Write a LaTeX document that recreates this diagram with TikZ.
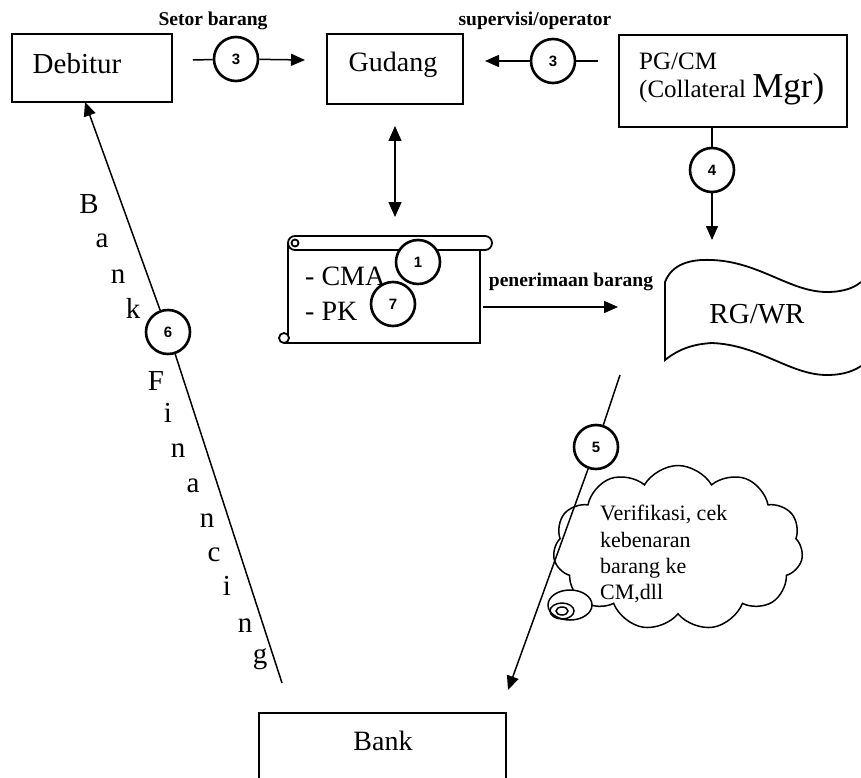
\documentclass[tikz,border=0pt]{standalone}
\usepackage{fontspec}
\setmainfont{Liberation Serif}
\newfontfamily\digitfont{Liberation Sans}
\usetikzlibrary{arrows.meta,shapes.symbols}
\begin{document}
\begin{tikzpicture}[x=1pt,y=-1pt,
  box/.style={draw,line width=1.8pt,rectangle,inner sep=0pt},
  num/.style={circle,draw,line width=2.6pt,minimum size=44pt,inner sep=0pt,fill=white,
    font=\digitfont\bfseries\fontsize{15}{15}\selectfont},
  conn/.style={line width=1.5pt},
  arr/.style={conn,-{Triangle[length=14pt,width=12pt]}},
  darr/.style={conn,{Triangle[length=15pt,width=13pt]}-{Triangle[length=15pt,width=13pt]}},
  txt/.style={anchor=base,inner sep=0pt,font=\fontsize{28}{30}\selectfont},
  lbl/.style={anchor=base,inner sep=0pt,font=\bfseries\fontsize{19.5}{20}\selectfont},
  bf/.style={anchor=base,inner sep=0pt,font=\fontsize{29}{30}\selectfont},
  ctxt/.style={anchor=base west,inner sep=0pt,font=\fontsize{22}{26}\selectfont},
  scrl/.style={line width=1.8pt},
]
\useasboundingbox (0,0) rectangle (861,778);
\clip (0,0) rectangle (861,778);

% boxes
\node[box,minimum width=160pt,minimum height=68pt] (deb) at (92,68) {};
\node[txt,font=\fontsize{29}{30}\selectfont] (debt) at (77,74) {Debitur};
\node[box,minimum width=136pt,minimum height=70pt] (gud) at (395,69) {};
\node[txt] (gudt) at (393,72) {Gudang};
\node[box,minimum width=228pt,minimum height=92pt] (pg) at (733,81) {};
\node[txt,anchor=base west,font=\fontsize{25}{26}\selectfont] (pgt) at (639,70) {PG/CM};
\node[txt,anchor=base west,font=\fontsize{25}{26}\selectfont] (colt) at (639,98) {(Collateral {\fontsize{35}{35}\selectfont Mgr)}};
\node[box,minimum width=247pt,minimum height=87pt] (bank) at (382.5,756.5) {};
\node[txt] (bankt) at (383,750) {Bank};

% scroll (CMA / PK)
\node[minimum width=192pt,minimum height=93pt,inner sep=0pt] (scroll) at (384,296.5) {};
\draw[scrl,rounded corners=7pt] (288,236) rectangle (492,250);
\draw[scrl] (295,243) circle (3.5pt);
\draw[scrl] (288,243) -- (288,336);
\draw[scrl] (480,250) -- (480,343) -- (284,343);
\draw[scrl] (284,338) circle (5pt);
\node[txt,anchor=base west] (cma) at (305,285) {- CMA};
\node[txt,anchor=base west] (pk) at (305,320) {- PK};

% RG/WR document
\draw[scrl] (665,282) .. controls (672,264) and (690,259) .. (712,260)
  .. controls (760,262) and (790,292) .. (827,292)
  .. controls (845,292) and (855,287) .. (861,282);
\draw[scrl] (665,282) -- (665,360)
  .. controls (680,348) and (695,344) .. (712,343)
  .. controls (760,345) and (790,375) .. (827,375)
  .. controls (845,375) and (855,370) .. (861,366);
\node[txt,font=\fontsize{29}{30}\selectfont] (rgt) at (757,323) {RG/WR};

% cloud
\node[cloud,draw,line width=1.5pt,cloud puffs=11,cloud puff arc=120,
  minimum width=250pt,minimum height=165pt,inner sep=0pt] (cloud) at (678,548) {};
\draw[line width=1.5pt,fill=white] (570,605) ellipse [x radius=22pt,y radius=15pt];
\draw[line width=1.5pt] (562,611) ellipse [x radius=12pt,y radius=8pt];
\draw[line width=1.5pt] (562,611) ellipse [x radius=6pt,y radius=4pt];
\node[ctxt] (v1) at (600,520) {Verifikasi, cek};
\node[ctxt] (v2) at (600,547) {kebenaran};
\node[ctxt] (v3) at (600,573) {barang ke};
\node[ctxt] (v4) at (600,599) {CM,dll};

% numbered circles
\node[num] (c3a) at (236,59) {3};
\node[num] (c3b) at (553,61) {3};
\node[num] (c4) at (712,170) {4};
\node[num] (c1) at (418,262) {1};
\node[num] (c7) at (393,304) {7};
\node[num] (c6) at (168,332) {6};
\node[num] (c5) at (596,447) {5};

% coordinates
\coordinate (s3l) at (193,60);
\coordinate (s3r) at (305,60);
\coordinate (o3r) at (598,61);
\coordinate (o3l) at (485,61);
\coordinate (g1) at (395,126);
\coordinate (g2) at (395,217);
\coordinate (p1) at (483,307);
\coordinate (p2) at (618,307);
\coordinate (r4) at (712,240);
\coordinate (rf) at (620,375);
\coordinate (bk) at (508,690);
\coordinate (bfb) at (282,683);
\coordinate (dt) at (85,102);

% connectors
\draw[conn] (s3l) -- (c3a);
\draw[arr] (c3a) -- (s3r);
\draw[conn] (o3r) -- (c3b);
\draw[arr] (c3b) -- (o3l);
\draw[conn] (c4 |- pg.south) -- (c4);
\draw[arr] (c4) -- (r4);
\draw[darr] (g1) -- (g2);
\draw[arr] (p1) -- (p2);
\draw[conn] (rf) -- (c5);
\draw[arr] (c5) -- (bk);
\draw[conn] (bfb) -- (c6);
\draw[arr] (c6) -- (dt);

% labels
\node[lbl] (l1) at (213,26) {Setor barang};
\node[lbl] (l2) at (535,26) {supervisi/operator};
\node[lbl] (l3) at (571,286) {penerimaan barang};

% Bank Financing letters
\node[bf] (b1) at (89,213) {B};
\node[bf] (b2) at (102,247) {a};
\node[bf] (b3) at (118,283) {n};
\node[bf] (b4) at (133,318) {k};
\node[bf] (f1) at (156,390) {F};
\node[bf] (f2) at (168,422) {i};
\node[bf] (f3) at (178,457) {n};
\node[bf] (f4) at (193,492) {a};
\node[bf] (f5) at (207,527) {n};
\node[bf] (f6) at (214,561) {c};
\node[bf] (f7) at (227,595) {i};
\node[bf] (f8) at (245,632) {n};
\node[bf] (f9) at (260,663) {g};
\end{tikzpicture}
\end{document}
